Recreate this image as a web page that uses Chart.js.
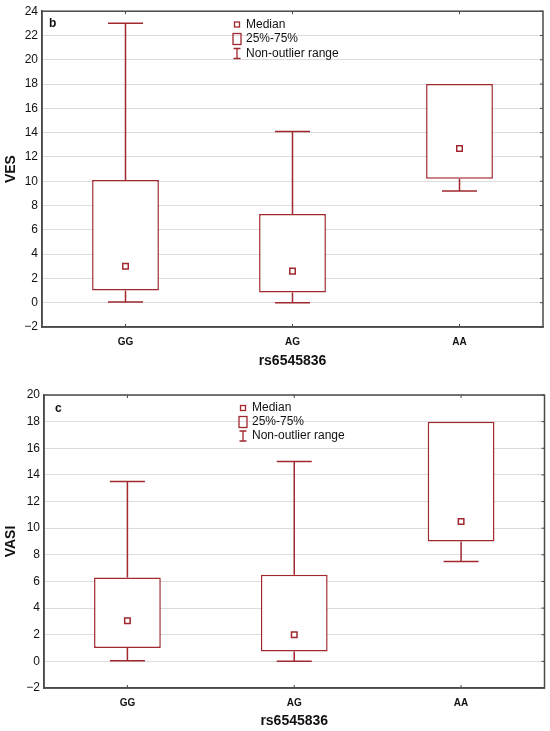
<!DOCTYPE html>
<html>
<head>
<meta charset="utf-8">
<script src="https://cdn.jsdelivr.net/npm/chart.js@4.4.0/dist/chart.umd.min.js"></script>
<style>
    body { margin: 0; background: #fff; }
    #wrap { position: relative; width: 550px; height: 731px; }
    canvas { position: absolute; left: 0; }
    #chart-ves { top: 0; }
    #chart-vasi { top: 370px; }
</style>
</head>
<body>
<div id="wrap">
    <canvas id="chart-ves" width="550" height="370"></canvas>
    <canvas id="chart-vasi" width="550" height="361"></canvas>
</div>
<script>
// DATA
var categories = ["GG", "AG", "AA"];

// panel b - VES
var vesMin = [0.05, 0, 9.2];
var vesQ1 = [1.0, 0.85, 10.2];
var vesMedian = [3.0, 2.6, 12.7];
var vesQ3 = [10.1, 7.3, 18.0];
var vesMax = [23.0, 14.1, 18.0];
var vesTicks = [-2, 24, 2];

// panel c - VASI
var vasiMin = [0.05, 0, 7.5];
var vasiQ1 = [1.0, 0.75, 9.0];
var vasiMedian = [3.05, 2.0, 10.5];
var vasiQ3 = [6.3, 6.5, 18.0];
var vasiMax = [13.5, 15.0, 18.0];
var vasiTicks = [-2, 20, 2];

var legendLabels = ["Median", "25%-75%", "Non-outlier range"];

var RED = "#a0282e";
var AXIS = "#4a4a4a";
var GRID = "#dcdcdc";
var FONT = "'Liberation Sans', Arial, sans-serif";

// whiskers, frame, inner ticks, legend, panel letter
var boxExtras = {
    id: "boxExtras",
    beforeDatasetsDraw: function (chart, args, opts) {
        var x = chart.scales.x, y = chart.scales.y, c = chart.ctx;
        var cap = (x.width / categories.length) * 0.105;
        c.save();
        c.strokeStyle = RED;
        c.lineWidth = 1.5;
        opts.low.forEach(function (v, i) {
            var px = x.getPixelForValue(i);
            var segs = [[opts.q3[i], opts.high[i]], [opts.q1[i], opts.low[i]]];
            segs.forEach(function (s) {
                if (Math.abs(s[0] - s[1]) < 0.01) return;
                c.beginPath();
                c.moveTo(px, y.getPixelForValue(s[0]));
                c.lineTo(px, y.getPixelForValue(s[1]));
                c.moveTo(px - cap, y.getPixelForValue(s[1]));
                c.lineTo(px + cap, y.getPixelForValue(s[1]));
                c.stroke();
            });
        });
        c.restore();
    },
    afterDraw: function (chart, args, opts) {
        var a = chart.chartArea, x = chart.scales.x, y = chart.scales.y, c = chart.ctx;
        c.save();
        c.strokeStyle = AXIS;
        c.lineWidth = 1.5;
        c.strokeRect(a.left, a.top, a.right - a.left, a.bottom - a.top);
        c.lineWidth = 1;
        c.beginPath();
        y.ticks.forEach(function (t) {
            var py = y.getPixelForValue(t.value);
            c.moveTo(a.right - 3, py);
            c.lineTo(a.right, py);
        });
        categories.forEach(function (cat, i) {
            var px = x.getPixelForValue(i);
            c.moveTo(px, a.top);
            c.lineTo(px, a.top + 3);
            c.moveTo(px, a.bottom);
            c.lineTo(px, a.bottom - 3);
        });
        c.stroke();

        // panel letter
        c.fillStyle = "#111";
        c.font = "bold 12px " + FONT;
        c.textBaseline = "middle";
        c.fillText(opts.letter, opts.letterX, opts.letterY);

        // legend
        var lx = opts.legendX, ly = opts.legendY;
        c.font = "12px " + FONT;
        legendLabels.forEach(function (txt, i) {
            var yy = ly + i * opts.legendStep;
            c.fillStyle = "#111";
            c.fillText(txt, lx + 9, yy);
            c.strokeStyle = RED;
            c.lineWidth = 1.3;
            if (i === 0) {
                c.fillStyle = "#fff";
                c.fillRect(lx - 2.5, yy - 2.5, 5, 5);
                c.strokeRect(lx - 2.5, yy - 2.5, 5, 5);
            } else if (i === 1) {
                c.strokeRect(lx - 4, yy - 5.5, 8, 11);
            } else {
                c.beginPath();
                c.moveTo(lx, yy - 5);
                c.lineTo(lx, yy + 5);
                c.moveTo(lx - 3.5, yy - 5);
                c.lineTo(lx + 3.5, yy - 5);
                c.moveTo(lx - 3.5, yy + 5);
                c.lineTo(lx + 3.5, yy + 5);
                c.stroke();
            }
        });
        c.restore();
    },
};

function makeBoxChart(canvasId, cfg) {
    var boxes = cfg.q1.map(function (v, i) {
        return [v, cfg.q3[i]];
    });
    return new Chart(document.getElementById(canvasId), {
        type: "bar",
        data: {
            labels: categories,
            datasets: [
                {
                    label: "25%-75%",
                    data: boxes,
                    backgroundColor: "#fff",
                    borderColor: RED,
                    borderWidth: 1.5,
                    borderSkipped: false,
                    barPercentage: 0.4,
                    categoryPercentage: 1,
                    grouped: false,
                    order: 2,
                },
                {
                    type: "line",
                    label: "Median",
                    data: cfg.median,
                    showLine: false,
                    pointStyle: "rect",
                    pointRadius: 3.9,
                    pointBorderWidth: 1.5,
                    pointBackgroundColor: "#fff",
                    pointBorderColor: RED,
                    order: 1,
                },
            ],
        },
        options: {
            responsive: false,
            animation: false,
            layout: { padding: cfg.padding },
            plugins: {
                legend: { display: false },
                tooltip: { enabled: false },
                boxExtras: {
                    low: cfg.low,
                    q1: cfg.q1,
                    q3: cfg.q3,
                    high: cfg.high,
                    letter: cfg.letter,
                    letterX: cfg.letterX,
                    letterY: cfg.letterY,
                    legendX: cfg.legendX,
                    legendY: cfg.legendY,
                    legendStep: cfg.legendStep,
                },
            },
            scales: {
                x: {
                    offset: true,
                    afterFit: function (s) {
                        s.height = 43;
                    },
                    grid: { display: true, drawOnChartArea: false, drawTicks: false },
                    border: { color: AXIS, width: 1.5 },
                    ticks: {
                        padding: 9,
                        color: "#111",
                        font: { family: FONT, size: 10, weight: "bold" },
                    },
                    title: {
                        display: true,
                        text: "rs6545836",
                        color: "#111",
                        padding: { top: 0, bottom: cfg.xTitlePad },
                        font: { family: FONT, size: 14, weight: "bold" },
                    },
                },
                y: {
                    min: cfg.ticks[0],
                    max: cfg.ticks[1],
                    afterFit: function (s) {
                        s.width = cfg.yWidth;
                    },
                    grid: { color: GRID, lineWidth: 1, drawTicks: false },
                    border: { color: AXIS, width: 1.5 },
                    ticks: {
                        stepSize: cfg.ticks[2],
                        padding: 4,
                        color: "#111",
                        font: { family: FONT, size: 12 },
                        callback: function (v) {
                            return String(v).replace("-", "\u2212");
                        },
                    },
                    title: {
                        display: true,
                        text: cfg.yTitle,
                        color: "#111",
                        padding: { top: 3, bottom: 0 },
                        font: { family: FONT, size: 14, weight: "bold" },
                    },
                },
            },
        },
        plugins: [boxExtras],
    });
}

makeBoxChart("chart-ves", {
    low: vesMin, q1: vesQ1, median: vesMedian, q3: vesQ3, high: vesMax,
    ticks: vesTicks,
    yTitle: "VES",
    yWidth: 42,
    xTitlePad: 0,
    padding: { top: 8, right: 7, left: 0, bottom: 0 },
    letter: "b", letterX: 49, letterY: 24,
    legendX: 237, legendY: 24.5, legendStep: 14.5,
});

makeBoxChart("chart-vasi", {
    low: vasiMin, q1: vasiQ1, median: vasiMedian, q3: vasiQ3, high: vasiMax,
    ticks: vasiTicks,
    yTitle: "VASI",
    yWidth: 44,
    xTitlePad: 1,
    padding: { top: 25, right: 5, left: 0, bottom: 0 },
    letter: "c", letterX: 55, letterY: 39,
    legendX: 243, legendY: 38, legendStep: 14,
});
</script>
</body>
</html>
